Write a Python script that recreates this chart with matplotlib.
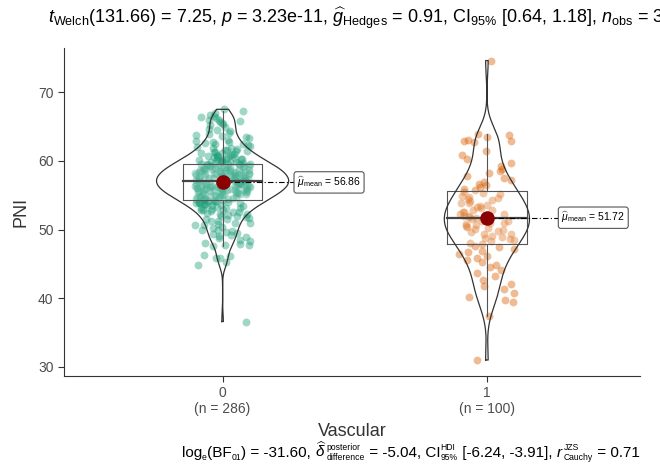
import numpy as np
import matplotlib.pyplot as plt

plt.rcParams['font.family'] = ['Liberation Sans', 'DejaVu Sans']
plt.rcParams['mathtext.fontset'] = 'custom'
plt.rcParams['mathtext.rm'] = 'Liberation Sans'
plt.rcParams['mathtext.it'] = 'Liberation Sans:italic'
plt.rcParams['mathtext.bf'] = 'Liberation Sans:bold'

GROUPS = ['0', '1']
COLORS = ['#1B9E77', '#D95F02']

# PNI, Vascular = 0 (approximate)
PNI_0 = [
    36.6,
    44.9, 45.3, 45.8, 45.9, 46.1, 46.3,
    47.6, 47.7, 47.8, 47.9,
    48.1, 48.3, 48.5, 48.7, 48.9,
    49.0, 49.2, 49.3, 49.5, 49.6, 49.8, 49.9,
    50.0, 50.2, 50.4, 50.6, 50.7, 50.8, 50.9,
    51.0, 51.2, 51.3, 51.5, 51.6, 51.7, 51.8, 51.9,
    52.0, 52.1, 52.2, 52.3, 52.4, 52.5, 52.6, 52.7, 52.8, 52.9, 52.9,
    53.0, 53.1, 53.2, 53.2, 53.3, 53.4, 53.5, 53.5, 53.6, 53.7, 53.7, 53.8,
    53.9, 53.9, 53.9,
    54.0, 54.0, 54.1, 54.1, 54.2, 54.2, 54.3, 54.3, 54.4, 54.4, 54.5, 54.5,
    54.6, 54.6, 54.7, 54.7, 54.8, 54.8, 54.9, 54.9, 54.9,
    55.0, 55.0, 55.0, 55.1, 55.1, 55.2, 55.2, 55.3, 55.3, 55.4, 55.4, 55.5,
    55.5, 55.5, 55.6, 55.6, 55.6, 55.7, 55.7, 55.7, 55.8, 55.8, 55.8, 55.9,
    55.9, 55.9,
    56.0, 56.0, 56.0, 56.1, 56.1, 56.1, 56.2, 56.2, 56.2, 56.3, 56.3, 56.3,
    56.4, 56.4, 56.4, 56.5, 56.5, 56.5, 56.5, 56.6, 56.6, 56.6, 56.7, 56.7,
    56.7, 56.8, 56.8, 56.8, 56.9, 56.9, 56.9,
    57.0, 57.0, 57.0, 57.1, 57.1, 57.1, 57.2, 57.2, 57.2, 57.3, 57.3, 57.3,
    57.4, 57.4, 57.4, 57.5, 57.5, 57.5, 57.6, 57.6, 57.6, 57.7, 57.7, 57.7,
    57.8, 57.8, 57.8, 57.9, 57.9, 57.9,
    58.0, 58.0, 58.0, 58.1, 58.1, 58.1, 58.2, 58.2, 58.2, 58.3, 58.3, 58.3,
    58.4, 58.4, 58.4, 58.5, 58.5, 58.5, 58.6, 58.6, 58.6, 58.7, 58.7, 58.8,
    58.8, 58.8, 58.9, 58.9,
    59.0, 59.0, 59.0, 59.1, 59.1, 59.2, 59.2, 59.2, 59.3, 59.3, 59.4, 59.4,
    59.5, 59.5, 59.5, 59.6, 59.6, 59.7, 59.7, 59.8, 59.8, 59.9, 59.9,
    60.0, 60.0, 60.1, 60.1, 60.2, 60.2, 60.3, 60.3, 60.4, 60.5, 60.5, 60.6,
    60.7, 60.7, 60.8, 60.9, 60.9,
    61.0, 61.1, 61.2, 61.3, 61.3, 61.4, 61.5, 61.6, 61.6, 61.7, 61.8, 61.9,
    62.0, 62.2, 62.3, 62.4, 62.5, 62.6, 62.7, 62.8, 62.9,
    63.1, 63.3, 63.5, 63.6, 63.8, 63.9,
    64.1, 64.3, 64.5, 64.7, 64.9,
    65.2, 65.4, 65.5, 65.7, 65.8, 65.9,
    66.0, 66.2, 66.4, 66.5, 66.7, 66.9,
    67.2, 67.5,
]

# PNI, Vascular = 1
PNI_1 = [
    31.0, 37.4, 39.4, 39.8, 40.2, 40.7, 41.3, 41.8, 42.1, 42.6, 43.2, 43.7,
    44.1, 44.5, 44.9, 45.2, 45.6, 45.9, 46.1, 46.4, 46.7, 46.9,
    47.1, 47.4, 47.6, 47.9, 48.1, 48.3, 48.5, 48.6, 48.8, 48.9,
    49.1, 49.3, 49.4, 49.6, 49.8, 49.9, 50.1, 50.2, 50.4, 50.5, 50.7, 50.8, 50.9,
    51.0, 51.2, 51.3, 51.5, 51.6, 51.7, 51.8, 51.9,
    52.0, 52.2, 52.3, 52.5, 52.6, 52.8, 52.9,
    53.1, 53.3, 53.4, 53.6, 53.8, 53.9, 54.1, 54.3, 54.5, 54.6, 54.8, 54.9,
    55.1, 55.3, 55.5, 55.7, 55.9, 56.2, 56.5, 56.7, 56.9,
    57.2, 57.5, 57.8, 58.2, 58.5, 58.8, 59.3, 59.7, 60.2, 60.8, 61.4,
    62.8, 62.9, 62.9, 63.0, 63.5, 63.7, 63.9,
    74.6,
]

MEANS = [56.86, 51.72]

TITLE = (r'$t_{\mathrm{Welch}}$(131.66) = 7.25, $p$ = 3.23e-11, '
         r'$\widehat{g}_{\mathrm{Hedges}}$ = 0.91, CI$_{95\%}$ [0.64, 1.18], '
         r'$n_{\mathrm{obs}}$ = 386')

# caption pieces: (text, superscript, subscript); scripts are stacked
CAPTION = [
    ('log', None, 'e'),
    ('(BF', None, '01'),
    (') = -31.60, ', None, None),
    (r'$\widehat{\delta}$', 'posterior', 'difference'),
    (' = -5.04, CI', 'HDI', '95%'),
    (' [-6.24, -3.91], ', None, None),
    (r'$r$', 'JZS', 'Cauchy'),
    (' = 0.71', None, None),
]


def kde(v, grid):
    v = np.asarray(v)
    q1, q3 = np.percentile(v, [25, 75])
    bw = 0.9 * min(v.std(ddof=1), (q3 - q1) / 1.34) * len(v) ** -0.2
    z = (grid[:, None] - v[None, :]) / bw
    return np.exp(-0.5 * z ** 2).sum(axis=1) / (len(v) * bw * np.sqrt(2 * np.pi))


W, H = 660, 468
fig = plt.figure(figsize=(6.6, 4.68), dpi=100)
ax = fig.add_axes([0.097, 0.197, 0.873, 0.70])

data = [np.array(PNI_0), np.array(PNI_1)]

# violins, area-scaled like ggplot
grids, dens = [], []
for v in data:
    g = np.linspace(v.min(), v.max(), 512)
    grids.append(g)
    dens.append(kde(v, g))
dmax = max(d.max() for d in dens)

for i, v in enumerate(data):
    # jittered points (fixed hash offsets, like ggplot's jitter)
    k = np.arange(len(v)) + 1.0 + 7 * i
    jit = ((np.sin(k * 12.9898) * 43758.5453) % 1 - 0.5) * 0.21
    ax.scatter(i + jit, v, s=32, color=COLORS[i], alpha=0.42, lw=0, zorder=2)

    # box (no outliers drawn)
    q1, med, q3 = np.percentile(v, [25, 50, 75])
    iqr = q3 - q1
    lo = v[v >= q1 - 1.5 * iqr].min()
    hi = v[v <= q3 + 1.5 * iqr].max()
    bw = 0.15
    ax.fill_between([i - bw, i + bw], q1, q3, color='white', alpha=0.2, zorder=3)
    ax.plot([i - bw, i + bw, i + bw, i - bw, i - bw], [q1, q1, q3, q3, q1],
            color='#555555', lw=0.8, zorder=3)
    ax.plot([i - bw, i + bw], [med, med], color='#444444', lw=1.6, zorder=3)
    ax.plot([i, i], [q3, hi], color='#555555', lw=0.8, zorder=3)
    ax.plot([i, i], [lo, q1], color='#555555', lw=0.8, zorder=3)

    # violin outline
    half = dens[i] / dmax * 0.25
    xs = np.concatenate([i - half, (i + half)[::-1], [i - half[0]]])
    ys = np.concatenate([grids[i], grids[i][::-1], [grids[i][0]]])
    ax.plot(xs, ys, color='#333333', lw=0.9, zorder=4)

    # mean point and label
    m = MEANS[i]
    ax.scatter([i], [m], s=110, color='#8B0000', zorder=6, lw=0)
    lx = i + 0.27
    ax.plot([i, lx], [m, m], color='black', lw=0.8, dashes=(5, 2, 1, 2), zorder=5)
    ax.text(lx + 0.012, m, r'$\widehat{\mu}_{\mathrm{mean}}$ = ' + f'{m:.2f}',
            fontsize=7.5, ha='left', va='center', zorder=7,
            bbox=dict(boxstyle='round,pad=0.3,rounding_size=0.25',
                      fc='white', ec='#555555', lw=0.8))

ax.set_xlim(-0.6, 1.58)
ax.set_ylim(28.7, 76.4)
ax.set_yticks([30, 40, 50, 60, 70])
ax.set_xticks([0, 1])
ax.set_xticklabels([f'{g}\n(n = {len(v)})' for g, v in zip(GROUPS, data)])
ax.tick_params(labelsize=10, labelcolor='#4D4D4D', color='#333333', length=4)

for s in ['top', 'right']:
    ax.spines[s].set_visible(False)
for s in ['left', 'bottom']:
    ax.spines[s].set_color('#333333')
    ax.spines[s].set_linewidth(0.8)

ax.set_xlabel('Vascular', fontsize=13, color='#333333', labelpad=5)
ax.set_ylabel('PNI', fontsize=13, color='#333333', labelpad=6)

fig.text(48 / W, 1 - 18 / H, TITLE, ha='left', va='center', fontsize=13.0)

# caption built from runs so the scripts can be small
renderer = fig.canvas.get_renderer()
base_size, script_size = 11, 6.2
y0 = H - 457
items = []
x = 0.0
for body, sup, sub in CAPTION:
    t = fig.text(0, 0, body, fontsize=base_size, ha='left', va='baseline')
    items.append((t, x, 0))
    x += t.get_window_extent(renderer).width
    sw = 0
    if sup:
        ts = fig.text(0, 0, sup, fontsize=script_size, ha='left', va='baseline')
        items.append((ts, x, 6.5))
        sw = max(sw, ts.get_window_extent(renderer).width)
    if sub:
        tb = fig.text(0, 0, sub, fontsize=script_size, ha='left', va='baseline')
        items.append((tb, x, -3))
        sw = max(sw, tb.get_window_extent(renderer).width)
    x += sw
start = 640 - x
for t, dx, dy in items:
    t.set_position(((start + dx) / W, (y0 + dy) / H))

fig.savefig('out.png', dpi=100)
